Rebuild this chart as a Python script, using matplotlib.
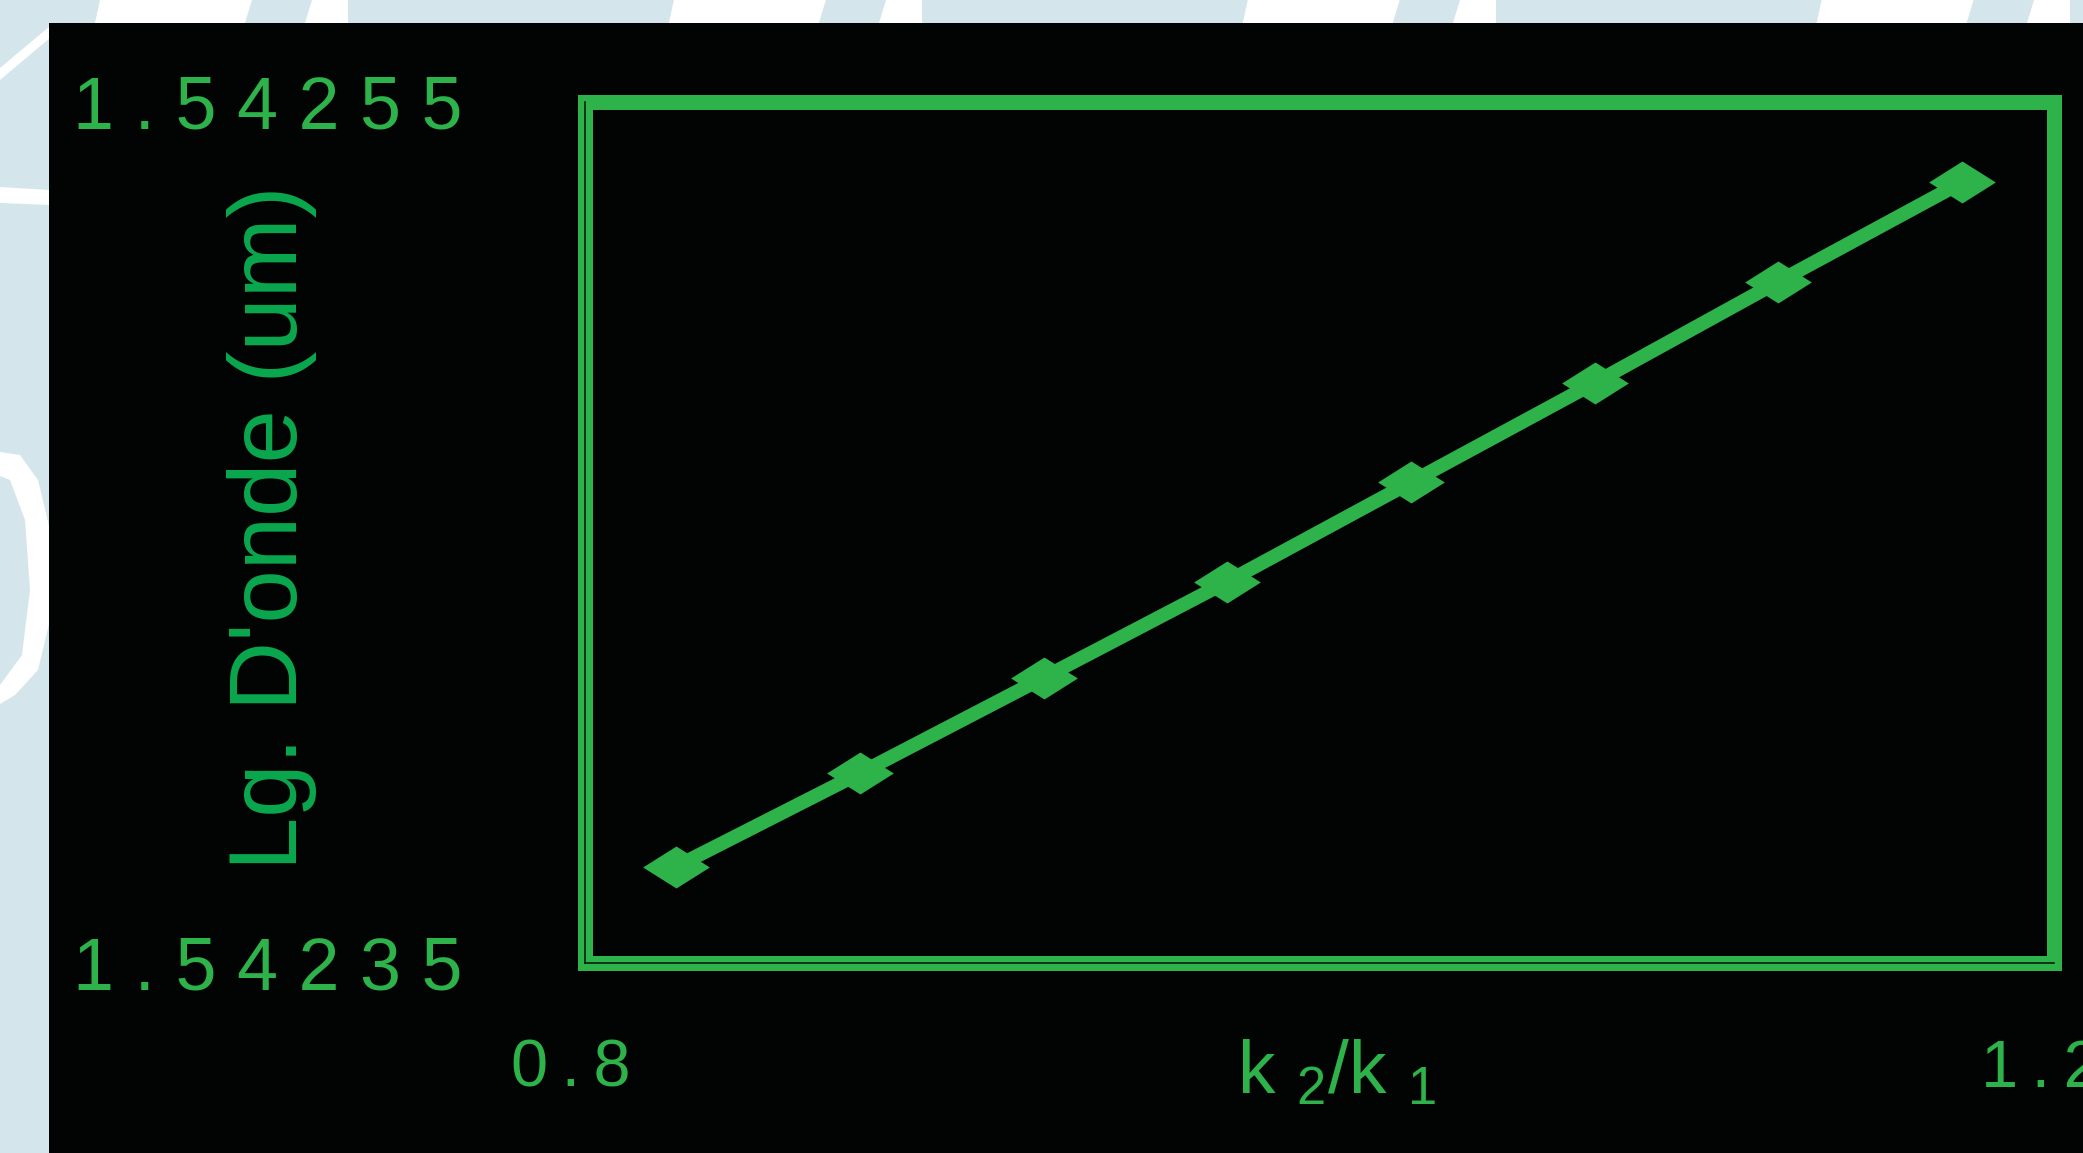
import matplotlib
matplotlib.use('Agg')
import matplotlib.pyplot as plt
from matplotlib.path import Path
from matplotlib.patches import Rectangle, Polygon
from matplotlib.font_manager import FontProperties

# ---- data ----
ratio_k = [0.825, 0.875, 0.925, 0.975, 1.025, 1.075, 1.125, 1.175]
wavelength_um = [1.5423723, 1.5423940, 1.5424162, 1.5424385,
                 1.5424616, 1.5424847, 1.5425082, 1.5425313]
x_ticks = [0.8, 1.2]
x_tick_labels = ['0\u2009.\u20098\u2009\u2009', '1\u2009.\u20092\u2009\u2009']
y_ticks = [1.54235, 1.54255]
y_tick_labels = ['1 . 5 4 2 3 5', '1 . 5 4 2 5 5']
x_label = 'k $_2$/k $_1$'
y_label = "Lg. D'onde (um)"

GREEN = '#2db34a'
LABEL_GREEN = '#0aa84f'
BG = '#d4e6eb'
PANEL = '#020404'
FONT = ['Liberation Sans', 'DejaVu Sans']

plt.rcParams['mathtext.fontset'] = 'custom'
plt.rcParams['mathtext.rm'] = 'Liberation Sans'
plt.rcParams['mathtext.it'] = 'Liberation Sans'
plt.rcParams['mathtext.default'] = 'rm'

W, H = 2083, 1153
fig = plt.figure(figsize=(W / 100, H / 100), dpi=100, facecolor=BG)

def px(x, y):
    return (x / W, 1 - y / H)

# decorative background shapes (watermark-like)
shapes = []
for off in [0, 432, 864, 1296]:
    o = off * 1.3284
    shapes.append([px(100 + o, 0), px(252 + o, 0), px(245 + o, 23), px(95 + o, 23)])
    shapes.append([px(312 + o, 0), px(348 + o, 0), px(348 + o, 23), px(305 + o, 23)])
shapes.append([px(0, 68), px(50, 26), px(50, 38), px(0, 80)])
shapes.append([px(0, 187), px(50, 190), px(50, 205), px(0, 203)])
shapes.append([px(0, 452), px(20, 455), px(38, 480), px(50, 530), px(50, 620),
               px(38, 670), px(15, 695), px(0, 704), px(0, 685), px(22, 655),
               px(30, 590), px(25, 520), px(10, 480), px(0, 476)])
for s in shapes:
    fig.patches.append(Polygon(s, closed=True, transform=fig.transFigure,
                               facecolor='white', edgecolor='none', zorder=-10))

fig.patches.append(Rectangle(px(49, 1153), (W - 49) / W, (1153 - 23) / H,
                             transform=fig.transFigure, facecolor=PANEL,
                             edgecolor='none', zorder=-5))

ax = fig.add_axes([584.5 / W, 190.5 / H, (2054 - 584.5) / W, (1051.3 - 190.5) / H])
ax.set_facecolor('none')

diamond = Path([(-1, 0), (0, 0.63), (1, 0), (0, -0.63), (-1, 0)],
               [Path.MOVETO, Path.LINETO, Path.LINETO, Path.LINETO, Path.CLOSEPOLY])
ax.plot(ratio_k, wavelength_um, color=GREEN, lw=10, marker=diamond,
        markersize=48, markeredgewidth=0, markerfacecolor=GREEN,
        solid_joinstyle='miter', clip_on=False, zorder=3)

ax.set_xlim(0.8, 1.2)
ax.set_ylim(1.54235, 1.54255)
ax.set_xticks(x_ticks)
ax.set_xticklabels(x_tick_labels)
ax.set_yticks(y_ticks)
ax.set_yticklabels(y_tick_labels)

for lab in ax.get_xticklabels():
    lab.set_fontproperties(FontProperties(family=FONT, size=48))
    lab.set_color(GREEN)
for lab in ax.get_yticklabels():
    lab.set_fontproperties(FontProperties(family=FONT, size=53))
    lab.set_color(GREEN)
ax.tick_params(axis='both', length=0)
ax.tick_params(axis='y', pad=88)
ax.tick_params(axis='x', pad=55)

for sp in ax.spines.values():
    sp.set_color(GREEN)
    sp.set_linewidth(10.8)
    sp.set_zorder(4)

# thin dark inner lines on left and bottom axis lines
ax.plot([0, 0], [0, 1], transform=ax.transAxes, color='#0b1f10', lw=1.2,
        clip_on=False, zorder=5)
ax.plot([0, 1], [0, 0], transform=ax.transAxes, color='#0b1f10', lw=1.2,
        clip_on=False, zorder=5)

fig.text(1336 / W, 60 / H, x_label, ha='center', va='baseline', color=GREEN,
         fontsize=54, family=FONT)
fig.text(272 / W, 1 - 528 / H, y_label, rotation=90, ha='center', va='center',
         color=LABEL_GREEN, fontsize=69, family=FONT)

fig.savefig('out.png', dpi=100, facecolor=BG)
